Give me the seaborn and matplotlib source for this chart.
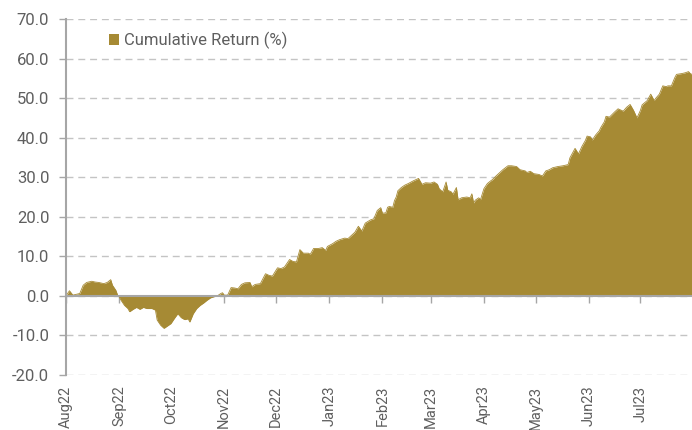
import pandas as pd
import numpy as np
import matplotlib
matplotlib.use("Agg")
import matplotlib.pyplot as plt
import seaborn as sns

# days since 2022-08-01 and cumulative return (%)
days = [0, 2, 4, 8, 10, 12, 15, 17, 19, 22, 24, 26, 27, 29, 30, 31, 32, 34, 36, 37,
        39, 41, 43, 45, 47, 50, 52, 53, 55, 57, 59, 61, 63, 65, 67, 69, 71, 72, 74, 76,
        78, 80, 82, 84, 86, 88, 90, 91, 92, 94, 96, 98, 100, 102, 104, 107, 108, 110, 113, 116,
        118, 120, 123, 125, 127, 130, 132, 134, 136, 138, 141, 142, 144, 147, 149, 151, 152, 155, 157, 159,
        162, 164, 166, 168, 170, 172, 174, 177, 179, 181, 183, 184, 186, 187, 188, 190, 191, 192, 193, 195,
        197, 199, 202, 205, 207, 209, 212, 214, 216, 217, 219, 220, 221, 222, 224, 225, 227, 228, 230, 233,
        235, 236, 237, 238, 240, 241, 243, 245, 247, 248, 250, 252, 254, 257, 259, 262, 264, 267, 268, 270,
        272, 275, 277, 279, 281, 283, 286, 289, 291, 292, 293, 296, 298, 300, 302, 303, 305, 306, 308, 310,
        311, 313, 314, 316, 319, 321, 323, 324, 326, 328, 330, 332, 334, 335, 338, 340, 342, 343, 345, 347,
        349, 350, 352, 354, 355, 358, 360, 362, 363, 364]
cum_return = [0.0, 1.3, 0.2, 0.6, 2.7, 3.4, 3.7, 3.5, 3.4, 3.1, 3.4, 4.1, 2.7, 1.4, 0.2, -0.3, -1.1, -2.4, -3.2, -4.0,
              -3.4, -2.9, -3.4, -2.9, -3.2, -3.2, -3.6, -6.1, -7.4, -8.2, -7.6, -7.0, -5.7, -4.5, -5.5, -6.0, -5.8, -6.6, -4.5, -3.2,
              -2.4, -1.8, -1.1, -0.5, -0.2, 0.0, 0.6, 0.8, 0.2, 0.2, 2.1, 2.0, 1.8, 2.9, 3.3, 3.4, 2.3, 2.9, 3.1, 5.6,
              5.2, 5.0, 7.1, 6.9, 7.3, 9.2, 8.7, 8.6, 11.7, 10.8, 10.8, 10.5, 12.0, 12.0, 12.2, 11.5, 12.5, 13.2, 13.8, 14.2,
              14.6, 14.5, 15.3, 16.1, 17.6, 16.4, 18.4, 19.2, 19.5, 21.6, 22.3, 20.9, 21.0, 22.4, 22.6, 22.4, 24.1, 25.0, 26.6, 27.4,
              28.0, 28.4, 29.1, 29.7, 28.2, 28.6, 28.5, 28.8, 28.2, 27.1, 26.3, 27.5, 28.8, 26.7, 26.3, 25.7, 27.4, 24.3, 24.8, 25.0,
              24.8, 25.8, 23.5, 24.2, 24.8, 24.3, 27.1, 28.4, 29.1, 29.4, 30.3, 31.1, 31.9, 32.9, 32.9, 32.7, 31.9, 31.6, 31.2, 31.5,
              30.9, 30.7, 30.3, 31.6, 31.9, 32.4, 32.7, 32.9, 33.1, 33.2, 34.9, 37.3, 35.9, 37.8, 39.3, 40.4, 40.2, 39.4, 40.7, 41.7,
              42.6, 44.0, 45.4, 45.2, 46.5, 47.3, 46.9, 46.7, 47.7, 48.4, 46.9, 45.0, 46.9, 48.3, 49.4, 51.0, 49.4, 50.0, 51.0, 53.1,
              52.9, 53.1, 53.1, 55.2, 56.0, 56.2, 56.4, 56.7, 56.2, 56.0]

month_labels = ["Aug22", "Sep22", "Oct22", "Nov22", "Dec22", "Jan23",
                "Feb23", "Mar23", "Apr23", "May23", "Jun23", "Jul23"]
y_ticks = [-20, -10, 0, 10, 20, 30, 40, 50, 60, 70]

start = pd.Timestamp("2022-08-01")
month_starts = pd.date_range(start, periods=len(month_labels), freq="MS")
month_pos = [(m - start).days for m in month_starts]

df = pd.DataFrame({"day": days, "ret": cum_return})

gold = "#A68A34"
grey_txt = "#5f5f5f"
axis_grey = "#a6a6a6"

sns.set_theme(style="white")
plt.rcParams["font.family"] = ["Roboto", "DejaVu Sans"]

fig = plt.figure(figsize=(6.92, 4.30), dpi=100)
ax = fig.add_axes([66 / 692, 1 - 375 / 430, 626 / 692, 356 / 430])

ax.fill_between(df["day"], df["ret"], 0, color=gold, linewidth=0, label="Cumulative Return (%)")
sns.lineplot(data=df, x="day", y="ret", ax=ax, color=gold, linewidth=0.6, legend=False)

ax.set_xlim(0, 364)
ax.set_ylim(-20, 70)
ax.set_yticks(y_ticks, [f"{v:.1f}" for v in y_ticks])
ax.set_xlabel("")
ax.set_ylabel("")

ax.set_axisbelow(True)
ax.yaxis.grid(True, color="#c4c4c4", linestyle=(0, (5, 3.5)), linewidth=1.0)
ax.xaxis.grid(False)

for s in ["top", "right"]:
    ax.spines[s].set_visible(False)
ax.spines["left"].set_color(axis_grey)
ax.spines["left"].set_linewidth(1.5)
ax.spines["bottom"].set_position(("data", 0))
ax.spines["bottom"].set_color(axis_grey)
ax.spines["bottom"].set_linewidth(1.5)
ax.spines["bottom"].set_zorder(3)

ax.set_xticks(month_pos)
ax.tick_params(axis="x", bottom=True, length=5, width=1, color=axis_grey, labelbottom=False, direction="out")
ax.tick_params(axis="y", left=True, length=5, width=1, color=axis_grey, labelsize=12,
               labelcolor=grey_txt, pad=7)

sec = ax.secondary_xaxis("bottom")
sec.set_xticks(month_pos, month_labels, rotation=90)
sec.tick_params(length=0, labelsize=10.5, labelcolor=grey_txt, pad=7.5)
sec.spines["bottom"].set_visible(False)

ax.legend(loc="upper left", bbox_to_anchor=(0.045, 1.005), frameon=False,
          handlelength=0.6, handleheight=0.6, handletextpad=0.3,
          prop={"size": 12}, labelcolor=grey_txt)

fig.savefig("out.png", dpi=100)
plt.close()
